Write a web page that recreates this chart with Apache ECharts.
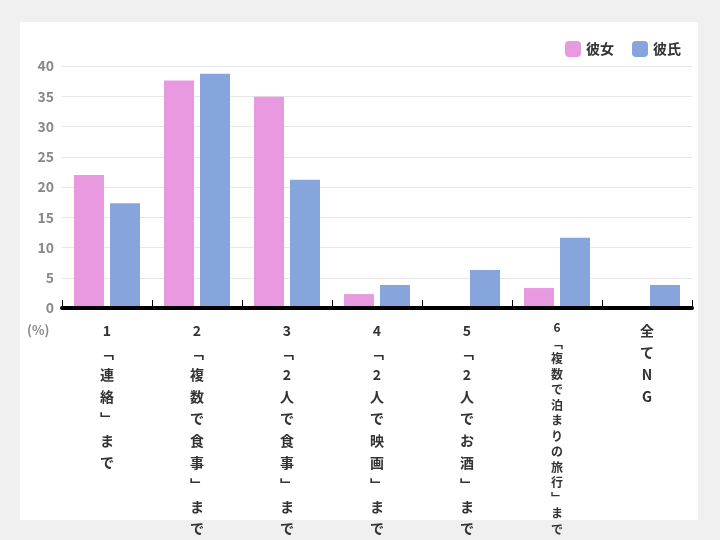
<!DOCTYPE html>
<html><head><meta charset="utf-8">
<script src="https://cdn.jsdelivr.net/npm/echarts@6/dist/echarts.min.js"></script>
<style>html,body{margin:0;padding:0;background:#f0f0f0}#main{width:720px;height:540px}</style>
</head><body><div id="main"></div>
<script>
var nums = ['1','2','3','4','5','6',''];
var names = ['﹁連絡﹂まで','﹁複数で食事﹂まで','﹁2人で食事﹂まで','﹁2人で映画﹂まで','﹁2人でお酒﹂まで','﹁複数で泊まりの旅行﹂まで','全てNG'];
var kanojo = [22, 37.6, 34.9, 2.3, 0, 3.3, 0];
var kareshi = [17.3, 38.7, 21.2, 3.8, 6.3, 11.6, 3.8];

var cats = names.map(function(n, i) {
    var txt = Array.from(n).join('\n');
    var item = {value: (nums[i] ? nums[i] + '\n' : '') + txt};
    if (i == 5) item.textStyle = {fontSize: 12, lineHeight: 15.5};
    return item;
});

var myChart = echarts.init(document.getElementById('main'));
var option = {
    backgroundColor: '#f0f0f0',
    textStyle: {fontFamily: '"Noto Sans CJK JP", sans-serif'},
    graphic: [
        {type: 'rect', shape: {x: 20, y: 22, width: 678, height: 498}, style: {fill: '#fff'}, z: -10},
        {type: 'text', left: 27, top: 324, style: {text: '(%)', fill: '#888', font: 'bold 13px "Noto Sans CJK JP"'}}
    ],
    legend: {
        right: 34, top: 36, itemWidth: 16, itemHeight: 16, itemGap: 18,
        textStyle: {fontSize: 14, fontWeight: 'bold', color: '#333'},
        data: ['彼女', '彼氏']
    },
    grid: {left: 62, right: 28, top: 66, bottom: 232},
    xAxis: {
        type: 'category',
        data: cats,
        z: 10,
        axisLine: {lineStyle: {color: '#000', width: 4}},
        axisTick: {show: true, inside: true, length: 8, lineStyle: {color: '#000', width: 1}},
        axisLabel: {interval: 0, color: '#333', fontWeight: 'bold', fontSize: 14, lineHeight: 22, margin: 12, verticalAlign: 'top'}
    },
    yAxis: {
        type: 'value', min: 0, max: 40, interval: 5,
        axisLabel: {color: '#888', fontWeight: 'bold', fontSize: 14, margin: 8},
        splitLine: {lineStyle: {color: '#e6e6e6'}}
    },
    series: [
        {name: '彼女', type: 'bar', data: kanojo, barWidth: 30, barGap: '20%', itemStyle: {color: '#e899e0'}},
        {name: '彼氏', type: 'bar', data: kareshi, barWidth: 30, itemStyle: {color: '#85a5dc'}}
    ]
};
myChart.setOption(option, true);
</script>
</body></html>
